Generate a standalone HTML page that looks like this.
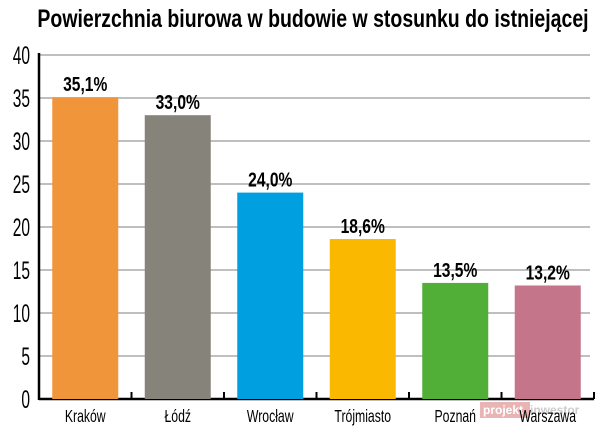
<!DOCTYPE html>
<html><head><meta charset="utf-8"><style>
body{margin:0;background:#fff;width:600px;height:436px;overflow:hidden}
svg text{font-family:"Liberation Sans",sans-serif}
</style></head><body>
<svg id="c" width="600" height="436">
<text x="313" y="27" text-anchor="middle" font-size="25" font-weight="bold" transform="translate(313,0) scale(0.78,1) translate(-313,0)">Powierzchnia biurowa w budowie w stosunku do istniejącej</text>
<g id="grid"></g>
<g><rect x="480" y="402" width="50" height="16" fill="#e8b4b4"/><text x="483" y="414" font-size="12" font-weight="bold" fill="#fff">projekt</text><text x="530" y="414" font-size="12" font-weight="bold" fill="#ccc">inwestor</text></g>
<g id="bars"></g>
</svg>
<script>
const categories=["Kraków","Łódź","Wrocław","Trójmiasto","Poznań","Warszawa"];
const values=[35.1,33.0,24.0,18.6,13.5,13.2];
const valueLabels=["35,1%","33,0%","24,0%","18,6%","13,5%","13,2%"];
const colors=["#f1953b","#85837a","#009fe0","#fbb800","#51ae36","#c5758a"];
const yTicks=[0,5,10,15,20,25,30,35,40];
const NS="http://www.w3.org/2000/svg";
const x0=39,cw=92.5,y0=399,yMax=40,ph=344;
const y=v=>y0-v/yMax*ph;
function mk(t,a,p){const e=document.createElementNS(NS,t);for(const k in a)e.setAttribute(k,a[k]);p.appendChild(e);return e;}
const g=document.getElementById('grid'),b=document.getElementById('bars');
yTicks.forEach(t=>{
 if(t>0){const l=mk('line',{x1:x0,x2:590,y1:y(t),y2:y(t),stroke:'#999','stroke-width':1.2},g);
 
 }
 const tx=mk('text',{x:30,y:y(t)+9,'text-anchor':'end','font-size':25,transform:`translate(30,0) scale(0.62,1) translate(-30,0)`},g);
 tx.textContent=t;
 
 
});
const ax=mk('line',{x1:x0,x2:x0,y1:y(40)-2,y2:y0+1,stroke:'#000','stroke-width':2.5},g);


const bx=mk('line',{x1:x0,x2:x0+cw*6,y1:y0,y2:y0,stroke:'#000','stroke-width':2.5},g);


categories.forEach((c,i)=>{
 const tk=mk('line',{x1:x0+cw*(i+1),x2:x0+cw*(i+1),y1:y0,y2:y0-7,stroke:'#000','stroke-width':2},g);
 
 
 const cx=x0+cw*i+cw/2;
 const r=mk('rect',{x:cx-33,y:y(values[i]),width:66,height:y0-y(values[i]),fill:colors[i]},b);
 
 
 const vl=mk('text',{x:cx,y:y(values[i])-6,'text-anchor':'middle','font-size':20,'font-weight':'bold',transform:`translate(${cx},0) scale(0.78,1) translate(${-cx},0)`},b);
 vl.textContent=valueLabels[i];
 
 
 const cl=mk('text',{x:cx,y:422,'text-anchor':'middle','font-size':18,transform:`translate(${cx},0) scale(0.68,1) translate(${-cx},0)`},b);
 cl.textContent=c;
 
 
});
</script>
</body></html>
